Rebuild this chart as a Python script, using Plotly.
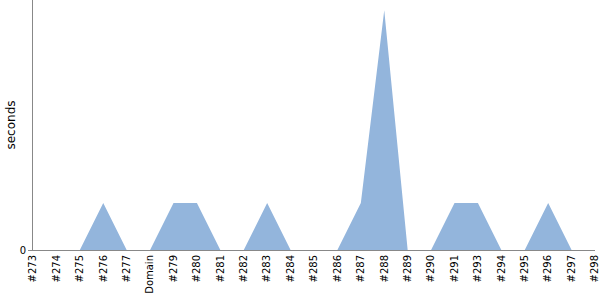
import plotly.graph_objects as go

categories = ["#273", "#274", "#275", "#276", "#277", "Domain", "#279", "#280", "#281", "#282",
              "#283", "#284", "#285", "#286", "#287", "#288", "#289", "#290", "#291", "#293",
              "#294", "#295", "#296", "#297", "#298"]
seconds = [0, 0, 0, 1, 0, 0, 1, 1, 0, 0,
           1, 0, 0, 0, 1, 5.1, 0, 0, 1, 1,
           0, 0, 1, 0, 0]

fig = go.Figure()
fig.add_trace(go.Scatter(
    x=categories, y=seconds, mode="lines", fill="tozeroy",
    line=dict(width=0, color="rgba(147,181,220,1)"),
    fillcolor="rgba(147,181,220,1)", hoverinfo="x+y",
))

fig.update_layout(
    width=600, height=300,
    margin=dict(l=33, r=5, t=0, b=50),
    paper_bgcolor="white", plot_bgcolor="white",
    showlegend=False,
    font=dict(family="DejaVu Sans, Verdana, sans-serif", size=10, color="black"),
)
fig.update_xaxes(
    type="category", range=[0, 24], tickangle=-90,
    showgrid=False, zeroline=False, showline=True, linecolor="#888888", linewidth=1,
    ticks="", tickfont=dict(family="DejaVu Sans", size=10),
)
fig.update_yaxes(
    range=[0, 5.32], tickvals=[0], ticktext=["0"],
    showgrid=False, zeroline=False, showline=True, linecolor="#888888", linewidth=1,
    ticks="outside", ticklen=4, tickcolor="#888888",
    tickfont=dict(family="DejaVu Sans", size=10),
    title=dict(text="seconds", font=dict(family="DejaVu Sans", size=12), standoff=1),
)

fig.write_html("out.html")
